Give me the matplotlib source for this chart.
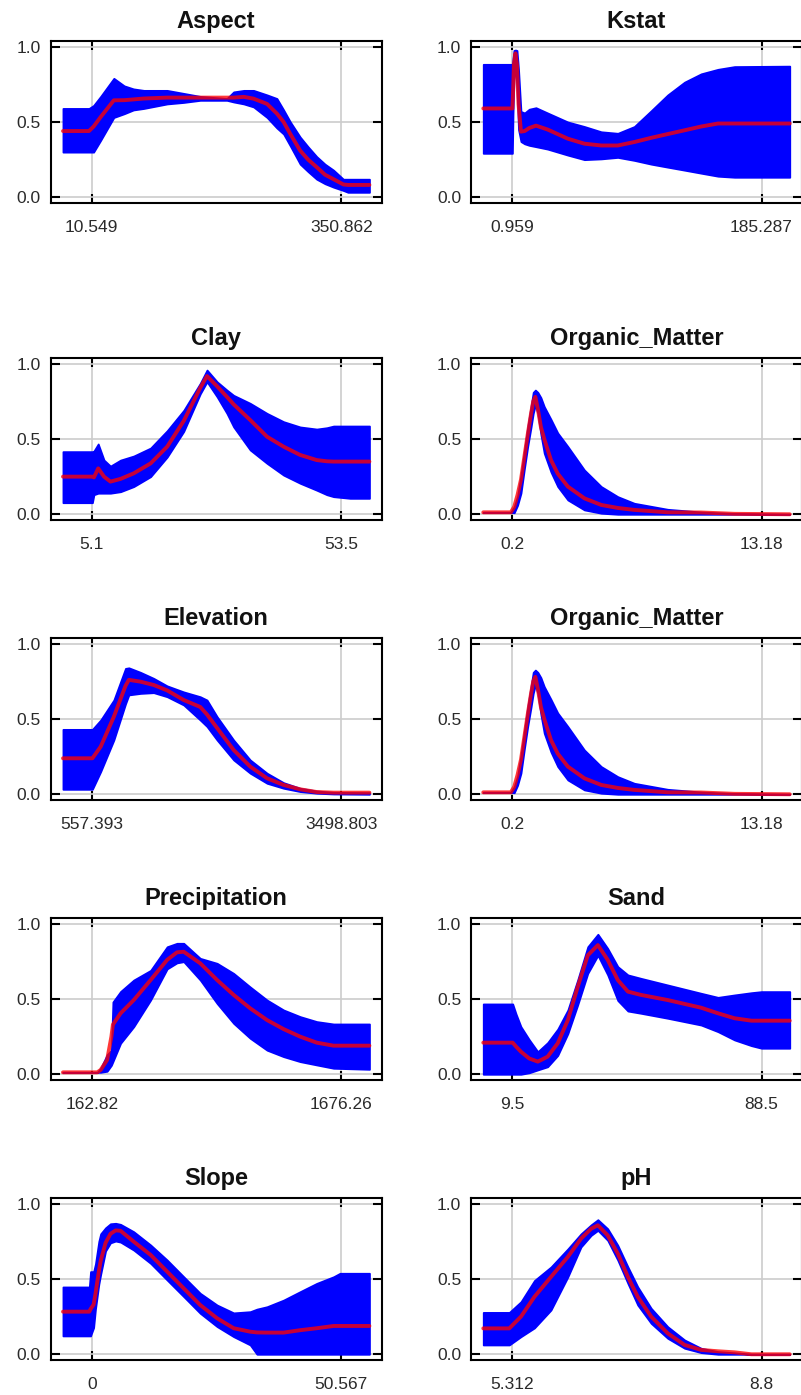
import matplotlib
matplotlib.use("Agg")
import matplotlib.pyplot as plt

plt.rcParams['font.family'] = ['Liberation Sans', 'DejaVu Sans']

# ---------------- data (u = relative position along each predictor's range) ----------------
titles = ["Aspect", "Kstat", "Clay", "Organic_Matter", "Elevation",
          "Organic_Matter", "Precipitation", "Sand", "Slope", "pH"]

tick_labels = [["10.549", "350.862"], ["0.959", "185.287"], ["5.1", "53.5"],
               ["0.2", "13.18"], ["557.393", "3498.803"], ["0.2", "13.18"],
               ["162.82", "1676.26"], ["9.5", "88.5"], ["0", "50.567"],
               ["5.312", "8.8"]]
tick_pos = [0.094, 0.908]

aspect_u = [0, 0.085, 0.10, 0.123, 0.166, 0.20, 0.23, 0.264, 0.34, 0.394, 0.448, 0.535, 0.557,
            0.59, 0.622, 0.666, 0.698, 0.72, 0.742, 0.774, 0.80, 0.828, 0.855, 0.883, 0.915, 0.93, 1.0]
aspect_up = [0.59, 0.59, 0.61, 0.67, 0.79, 0.74, 0.72, 0.71, 0.71, 0.69, 0.67, 0.656, 0.70,
             0.71, 0.71, 0.68, 0.656, 0.58, 0.50, 0.40, 0.335, 0.27, 0.22, 0.18, 0.12, 0.12, 0.12]
aspect_lo = [0.30, 0.30, 0.30, 0.378, 0.53, 0.555, 0.58, 0.59, 0.62, 0.63, 0.644, 0.644, 0.633,
             0.62, 0.60, 0.53, 0.46, 0.42, 0.34, 0.22, 0.17, 0.12, 0.09, 0.067, 0.045, 0.033, 0.033]
aspect_mean = [0.44, 0.44, 0.47, 0.533, 0.644, 0.645, 0.65, 0.656, 0.662, 0.662, 0.662, 0.662, 0.662,
               0.667, 0.655, 0.62, 0.556, 0.50, 0.42, 0.31, 0.25, 0.20, 0.15, 0.12, 0.085, 0.082, 0.082]

kstat_u = [0, 0.095, 0.097, 0.100, 0.105, 0.110, 0.115, 0.123, 0.135, 0.150, 0.172, 0.21, 0.276,
           0.33, 0.385, 0.439, 0.493, 0.548, 0.602, 0.657, 0.711, 0.766, 0.82, 1.0]
kstat_up = [0.883, 0.883, 0.92, 0.975, 0.978, 0.975, 0.85, 0.57, 0.56, 0.585, 0.595, 0.56, 0.50,
            0.47, 0.435, 0.425, 0.47, 0.575, 0.68, 0.765, 0.82, 0.85, 0.868, 0.871]
kstat_lo = [0.292, 0.292, 0.55, 0.78, 0.88, 0.72, 0.45, 0.37, 0.355, 0.345, 0.336, 0.32, 0.28,
            0.25, 0.255, 0.265, 0.245, 0.22, 0.20, 0.18, 0.16, 0.14, 0.133, 0.133]
kstat_mean = [0.59, 0.59, 0.68, 0.88, 0.956, 0.88, 0.62, 0.436, 0.44, 0.46, 0.476, 0.45, 0.389,
              0.356, 0.344, 0.344, 0.367, 0.395, 0.42, 0.445, 0.47, 0.49, 0.49, 0.49]

clay_u = [0, 0.096, 0.101, 0.115, 0.134, 0.155, 0.188, 0.231, 0.286, 0.340, 0.394, 0.448, 0.470,
          0.503, 0.535, 0.557, 0.611, 0.666, 0.720, 0.774, 0.828, 0.861, 0.883, 0.937, 1.0]
clay_up = [0.416, 0.416, 0.42, 0.467, 0.36, 0.32, 0.36, 0.387, 0.44, 0.555, 0.69, 0.87, 0.958,
           0.88, 0.825, 0.79, 0.737, 0.67, 0.615, 0.58, 0.566, 0.575, 0.586, 0.586, 0.586]
clay_lo = [0.077, 0.077, 0.13, 0.14, 0.14, 0.14, 0.15, 0.184, 0.25, 0.38, 0.55, 0.80, 0.88,
           0.78, 0.67, 0.58, 0.427, 0.338, 0.26, 0.206, 0.16, 0.13, 0.117, 0.106, 0.106]
clay_mean = [0.25, 0.25, 0.245, 0.305, 0.25, 0.217, 0.235, 0.272, 0.338, 0.449, 0.62, 0.84, 0.918,
             0.85, 0.78, 0.73, 0.626, 0.515, 0.449, 0.394, 0.36, 0.352, 0.35, 0.35, 0.35]

om_u = [0, 0.09, 0.101, 0.112, 0.123, 0.134, 0.145, 0.156, 0.163, 0.170, 0.178, 0.188, 0.199,
        0.221, 0.243, 0.276, 0.33, 0.385, 0.439, 0.493, 0.602, 0.711, 0.82, 1.0]
om_up = [0.013, 0.013, 0.05, 0.12, 0.26, 0.42, 0.58, 0.72, 0.81, 0.825, 0.81, 0.775, 0.715,
         0.63, 0.54, 0.45, 0.294, 0.184, 0.117, 0.073, 0.033, 0.015, 0.005, 0.0]
om_lo = [0.013, 0.013, 0.01, 0.06, 0.14, 0.30, 0.45, 0.58, 0.67, 0.725, 0.67, 0.53, 0.405,
         0.28, 0.184, 0.095, 0.029, 0.007, 0.0, 0.0, 0.0, 0.0, 0.0, 0.0]
om_mean = [0.013, 0.013, 0.05, 0.13, 0.23, 0.38, 0.53, 0.67, 0.75, 0.78, 0.70, 0.58, 0.50,
           0.36, 0.27, 0.184, 0.106, 0.062, 0.042, 0.029, 0.013, 0.012, 0.003, 0.0]

elev_u = [0, 0.096, 0.123, 0.166, 0.204, 0.215, 0.253, 0.296, 0.340, 0.394, 0.448, 0.470, 0.503,
          0.557, 0.611, 0.666, 0.720, 0.774, 0.828, 0.883, 1.0]
elev_up = [0.431, 0.431, 0.493, 0.626, 0.836, 0.84, 0.81, 0.77, 0.72, 0.68, 0.648, 0.626, 0.515,
           0.36, 0.228, 0.14, 0.077, 0.04, 0.022, 0.013, 0.011]
elev_lo = [0.033, 0.033, 0.15, 0.36, 0.60, 0.66, 0.67, 0.675, 0.648, 0.593, 0.493, 0.45, 0.36,
           0.228, 0.14, 0.073, 0.04, 0.018, 0.007, 0.002, 0.0]
elev_mean = [0.239, 0.239, 0.316, 0.515, 0.72, 0.76, 0.748, 0.726, 0.69, 0.626, 0.58, 0.53, 0.44,
             0.294, 0.184, 0.106, 0.062, 0.033, 0.015, 0.011, 0.011]

prec_u = [0, 0.112, 0.123, 0.144, 0.158, 0.163, 0.188, 0.231, 0.286, 0.340, 0.372, 0.394, 0.448,
          0.503, 0.557, 0.611, 0.666, 0.720, 0.774, 0.828, 0.883, 1.0]
prec_up = [0.013, 0.013, 0.04, 0.13, 0.16, 0.48, 0.55, 0.626, 0.69, 0.847, 0.87, 0.87, 0.77,
           0.737, 0.67, 0.58, 0.493, 0.427, 0.383, 0.35, 0.334, 0.334]
prec_lo = [0.013, 0.013, 0.013, 0.02, 0.06, 0.084, 0.206, 0.316, 0.493, 0.70, 0.74, 0.748, 0.626,
           0.47, 0.338, 0.239, 0.16, 0.117, 0.084, 0.062, 0.04, 0.033]
prec_mean = [0.013, 0.013, 0.029, 0.095, 0.25, 0.33, 0.405, 0.493, 0.626, 0.76, 0.81, 0.814, 0.737,
             0.626, 0.527, 0.438, 0.36, 0.30, 0.25, 0.21, 0.19, 0.19]

sand_u = [0, 0.096, 0.107, 0.123, 0.150, 0.178, 0.210, 0.243, 0.276, 0.308, 0.341, 0.374, 0.406,
          0.439, 0.472, 0.515, 0.602, 0.711, 0.766, 0.820, 0.875, 0.908, 1.0]
sand_up = [0.467, 0.467, 0.40, 0.316, 0.23, 0.15, 0.21, 0.30, 0.427, 0.626, 0.847, 0.93, 0.836,
           0.715, 0.66, 0.637, 0.593, 0.538, 0.511, 0.527, 0.542, 0.549, 0.549]
sand_lo = [0.0, 0.0, 0.0, 0.0, 0.01, 0.029, 0.05, 0.125, 0.27, 0.46, 0.67, 0.79, 0.66,
           0.49, 0.42, 0.405, 0.372, 0.327, 0.283, 0.228, 0.19, 0.173, 0.173]
sand_mean = [0.21, 0.21, 0.184, 0.15, 0.105, 0.084, 0.117, 0.206, 0.36, 0.58, 0.79, 0.858, 0.76,
             0.626, 0.549, 0.527, 0.493, 0.442, 0.405, 0.372, 0.356, 0.356, 0.356]

slope_u = [0, 0.086, 0.090, 0.100, 0.106, 0.117, 0.123, 0.139, 0.155, 0.172, 0.188, 0.231, 0.286,
           0.340, 0.394, 0.448, 0.503, 0.557, 0.611, 0.633, 0.666, 0.720, 0.774, 0.828, 0.883, 0.904, 1.0]
slope_up = [0.447, 0.447, 0.549, 0.549, 0.60, 0.75, 0.80, 0.84, 0.867, 0.87, 0.863, 0.814, 0.726,
            0.626, 0.515, 0.405, 0.327, 0.275, 0.283, 0.30, 0.316, 0.36, 0.416, 0.471, 0.515, 0.538, 0.538]
slope_lo = [0.122, 0.122, 0.122, 0.177, 0.30, 0.465, 0.53, 0.686, 0.74, 0.752, 0.745, 0.692, 0.604,
            0.493, 0.383, 0.272, 0.184, 0.117, 0.062, 0.0, 0.0, 0.0, 0.0, 0.0, 0.0, 0.0, 0.0]
slope_mean = [0.283, 0.283, 0.30, 0.33, 0.40, 0.55, 0.62, 0.74, 0.80, 0.823, 0.82, 0.748, 0.66,
              0.549, 0.438, 0.327, 0.239, 0.173, 0.15, 0.145, 0.144, 0.144, 0.16, 0.173, 0.188, 0.188, 0.188]

ph_u = [0, 0.085, 0.123, 0.167, 0.221, 0.276, 0.319, 0.352, 0.374, 0.406, 0.439, 0.472, 0.504,
        0.548, 0.602, 0.657, 0.711, 0.766, 0.820, 0.875, 1.0]
ph_up = [0.278, 0.278, 0.349, 0.49, 0.58, 0.70, 0.80, 0.86, 0.894, 0.834, 0.724, 0.58, 0.448,
         0.305, 0.183, 0.095, 0.04, 0.018, 0.01, 0.0, 0.0]
ph_lo = [0.062, 0.062, 0.117, 0.175, 0.294, 0.514, 0.713, 0.79, 0.823, 0.757, 0.625, 0.47, 0.327,
         0.205, 0.106, 0.04, 0.011, 0.0, 0.0, 0.0, 0.0]
ph_mean = [0.172, 0.172, 0.25, 0.382, 0.514, 0.647, 0.768, 0.834, 0.857, 0.79, 0.669, 0.514, 0.382,
           0.25, 0.139, 0.062, 0.029, 0.02, 0.013, 0.0, 0.0]

panels = [
    (aspect_u, aspect_lo, aspect_mean, aspect_up),
    (kstat_u, kstat_lo, kstat_mean, kstat_up),
    (clay_u, clay_lo, clay_mean, clay_up),
    (om_u, om_lo, om_mean, om_up),
    (elev_u, elev_lo, elev_mean, elev_up),
    (om_u, om_lo, om_mean, om_up),
    (prec_u, prec_lo, prec_mean, prec_up),
    (sand_u, sand_lo, sand_mean, sand_up),
    (slope_u, slope_lo, slope_mean, slope_up),
    (ph_u, ph_lo, ph_mean, ph_up),
]

# ---------------- layout ----------------
W, H = 801, 1395
fig = plt.figure(figsize=(W / 100, H / 100), dpi=100)

col_left = [50.7, 471.0]
ax_w = 331.0
row_top = [40.7, 357.7, 637.7, 917.7, 1197.7]
ax_h = 162.6

for i, (title, labels, (u, lo, mean, up)) in enumerate(zip(titles, tick_labels, panels)):
    r, c = divmod(i, 2)
    x0 = col_left[c]
    y0 = row_top[r]
    ax = fig.add_axes([x0 / W, 1 - (y0 + ax_h) / H, ax_w / W, ax_h / H])
    ax.fill_between(u, lo, up, color='#0000ff', lw=1.3, edgecolor='#0000ff', zorder=2)
    ax.plot(u, mean, color='red', alpha=0.78, lw=2.8, zorder=3,
            solid_joinstyle='round', solid_capstyle='round')
    ax.set_xlim(-0.04, 1.04)
    ax.set_ylim(-0.04, 1.04)
    ax.set_xticks(tick_pos)
    ax.set_xticklabels(labels)
    ax.set_yticks([0.0, 0.5, 1.0])
    ax.set_yticklabels(["0.0", "0.5", "1.0"])
    ax.grid(True, color='#cccccc', lw=1.2, zorder=0)
    ax.set_axisbelow(True)
    ax.tick_params(axis='both', direction='in', length=6.5, width=1.5,
                   top=True, right=True, colors='black', labelcolor='#2a2a2a',
                   labelsize=12.5)
    ax.tick_params(axis='x', pad=12)
    ax.tick_params(axis='y', pad=7)
    for s in ax.spines.values():
        s.set_linewidth(1.5)
        s.set_color('black')
    ax.set_title(title, fontsize=17, fontweight='bold', pad=9.5, color='#111111')

fig.savefig("out.png", dpi=100)
